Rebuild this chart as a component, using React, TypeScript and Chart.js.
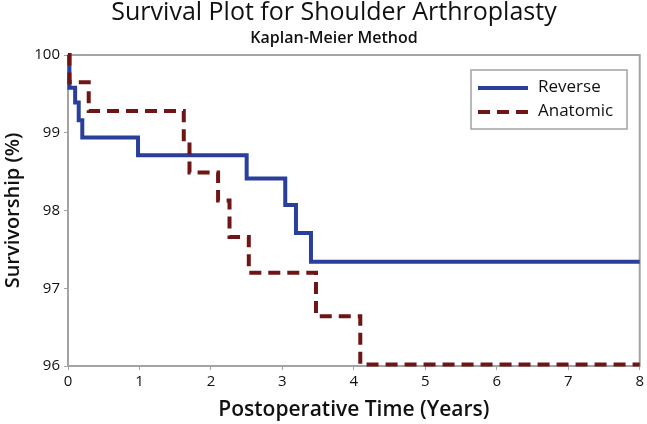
import React, { useEffect, useRef } from 'react';
import { Chart, registerables } from 'chart.js';

Chart.register(...registerables);

const chartTitle = 'Survival Plot for Shoulder Arthroplasty';
const chartSubtitle = 'Kaplan-Meier Method';
const xAxisTitle = 'Postoperative Time (Years)';
const yAxisTitle = 'Survivorship (%)';
const seriesNames = ['Reverse', 'Anatomic'];

const reverseTimes = [0, 0.02, 0.1, 0.15, 0.2, 0.98, 2.5, 3.04, 3.19, 3.4, 8];
const reverseSurv = [100, 99.58, 99.39, 99.16, 98.94, 98.71, 98.41, 98.07, 97.71, 97.34, 97.34];
const anatomicTimes = [0, 0.02, 0.29, 1.62, 1.7, 2.1, 2.26, 2.53, 3.47, 4.09, 8];
const anatomicSurv = [100, 99.65, 99.28, 98.88, 98.49, 98.13, 97.66, 97.2, 96.64, 96.02, 96.02];

const xTicks = [0, 1, 2, 3, 4, 5, 6, 7, 8];
const yTicks = [96, 97, 98, 99, 100];

const BLUE = '#2a3f9c';
const MAROON = '#6e1515';
const GRAY = '#a3a3a3';
const TEXT = '#111111';
const FONT = "'Open Sans', 'Noto Sans', sans-serif";

const framePlugin = {
  id: 'frame',
  beforeDatasetsDraw(chart: any) {
    const { ctx, chartArea } = chart;
    ctx.save();
    ctx.strokeStyle = GRAY;
    ctx.lineWidth = 2;
    ctx.strokeRect(chartArea.left, chartArea.top, chartArea.right - chartArea.left, chartArea.bottom - chartArea.top);
    ctx.restore();
  },
};

const legendPlugin = {
  id: 'boxLegend',
  afterDatasetsDraw(chart: any) {
    const { ctx } = chart;
    const x = 471, y = 70, w = 156, h = 59;
    ctx.save();
    ctx.fillStyle = '#ffffff';
    ctx.fillRect(x, y, w, h);
    ctx.strokeStyle = GRAY;
    ctx.lineWidth = 1.5;
    ctx.strokeRect(x, y, w, h);
    const items = [
      { label: seriesNames[0], color: BLUE, dash: [] as number[], yy: y + 18 },
      { label: seriesNames[1], color: MAROON, dash: [12, 7], yy: y + 42 },
    ];
    items.forEach((it) => {
      ctx.beginPath();
      ctx.setLineDash(it.dash);
      ctx.strokeStyle = it.color;
      ctx.lineWidth = 4;
      ctx.moveTo(478, it.yy);
      ctx.lineTo(528, it.yy);
      ctx.stroke();
      ctx.setLineDash([]);
      ctx.fillStyle = TEXT;
      ctx.font = `500 17px ${FONT}`;
      ctx.textBaseline = 'middle';
      ctx.textAlign = 'left';
      ctx.fillText(it.label, 538, it.yy - 1);
    });
    ctx.restore();
  },
};

export default function App() {
  const ref = useRef<HTMLCanvasElement | null>(null);

  useEffect(() => {
    document.body.style.margin = '0';
    const canvas = ref.current;
    if (!canvas) return;
    const chart = new Chart(canvas, {
      type: 'line',
      data: {
        datasets: [
          {
            label: seriesNames[0],
            data: reverseTimes.map((t, i) => ({ x: t, y: reverseSurv[i] })),
            borderColor: BLUE,
            backgroundColor: BLUE,
            borderWidth: 4,
            stepped: true,
            pointRadius: 0,
            fill: false,
            order: 2,
            clip: false as any,
          },
          {
            label: seriesNames[1],
            data: anatomicTimes.map((t, i) => ({ x: t, y: anatomicSurv[i] })),
            borderColor: MAROON,
            backgroundColor: MAROON,
            borderWidth: 4,
            borderDash: [12, 7],
            stepped: true,
            pointRadius: 0,
            fill: false,
            order: 1,
            clip: false as any,
          },
        ],
      },
      options: {
        animation: false,
        responsive: true,
        maintainAspectRatio: false,
        layout: { padding: { left: 28, right: 7, top: 0, bottom: 0 } },
        plugins: {
          legend: { display: false },
          tooltip: { enabled: false },
          title: {
            display: true,
            text: chartTitle,
            color: TEXT,
            font: { family: FONT, size: 25, weight: '500', lineHeight: 1.0 },
            padding: { top: 0, bottom: 0 },
          },
          subtitle: {
            display: true,
            text: chartSubtitle,
            color: TEXT,
            font: { family: FONT, size: 16, weight: '600', lineHeight: 1.2 },
            padding: { top: 3.4, bottom: 7.4 },
          },
        },
        scales: {
          x: {
            type: 'linear',
            min: 0,
            max: 8,
            afterFit: (s: any) => { s.height = 58; },
            afterBuildTicks: (s: any) => { s.ticks = xTicks.map((v) => ({ value: v })); },
            ticks: { color: TEXT, font: { family: FONT, size: 15, weight: '500' }, padding: 3 },
            grid: { display: true, drawOnChartArea: false, drawTicks: true, tickLength: 4, color: GRAY },
            border: { display: true, color: GRAY, width: 2 },
            title: {
              display: true,
              text: xAxisTitle,
              color: TEXT,
              font: { family: FONT, size: 21, weight: '600' },
              padding: { top: 0, bottom: 1.4 },
            },
          },
          y: {
            type: 'linear',
            min: 96,
            max: 100,
            afterFit: (s: any) => { s.width = 40; },
            afterBuildTicks: (s: any) => { s.ticks = yTicks.map((v) => ({ value: v })); },
            ticks: { color: TEXT, font: { family: FONT, size: 15, weight: '500' }, padding: 4 },
            grid: { display: true, drawOnChartArea: false, drawTicks: true, tickLength: 4, color: GRAY },
            border: { display: true, color: GRAY, width: 2 },
            title: {
              display: true,
              text: yAxisTitle,
              color: TEXT,
              font: { family: FONT, size: 20, weight: '600' },
              padding: { top: -27, bottom: 0 },
            },
          },
        },
      },
      plugins: [framePlugin, legendPlugin],
    } as any);
    return () => chart.destroy();
  }, []);

  return (
    <div style={{ width: 647, height: 424, position: 'relative' }}>
      <canvas ref={ref} />
    </div>
  );
}
